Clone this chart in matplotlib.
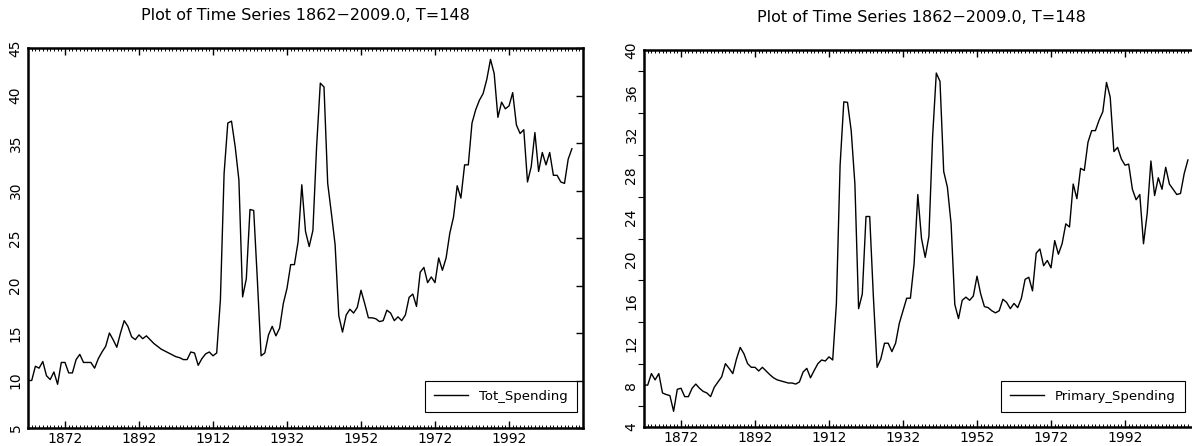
import numpy as np
import matplotlib.pyplot as plt
from matplotlib.ticker import MultipleLocator

# annual data 1862-2009
years = np.arange(1862, 2010)

tot_spending = [
    10.0, 10.0, 11.5, 11.3, 12.0, 10.5, 10.1, 10.9, 9.6, 11.9,
    11.9, 10.8, 10.8, 12.2, 12.75, 11.9, 11.9, 11.9, 11.3, 12.3,
    13.0, 13.6, 15.0, 14.3, 13.5, 15.0, 16.3, 15.7, 14.6, 14.3,
    14.8, 14.4, 14.7, 14.3, 13.9, 13.6, 13.3, 13.1, 12.9, 12.7,
    12.5, 12.4, 12.2, 12.2, 13.0, 12.9, 11.6, 12.3, 12.8, 13.0,
    12.6, 12.9, 18.5, 31.8, 37.1, 37.3, 34.6, 31.1, 18.8, 20.7,
    28.0, 27.9, 20.5, 12.6, 12.9, 14.8, 15.7, 14.7, 15.5, 18.1,
    19.7, 22.2, 22.2, 24.6, 30.6, 25.7, 24.1, 25.8, 34.6, 41.3,
    40.9, 30.75, 27.6, 24.3, 16.8, 15.1, 16.9, 17.5, 17.1, 17.7,
    19.5, 18.1, 16.6, 16.6, 16.5, 16.2, 16.3, 17.4, 17.1, 16.3,
    16.7, 16.3, 16.9, 18.75, 19.1, 17.8, 21.4, 21.9, 20.3, 20.9,
    20.3, 22.9, 21.6, 22.9, 25.5, 27.2, 30.5, 29.2, 32.7, 32.7,
    37.1, 38.5, 39.5, 40.2, 41.7, 43.8, 42.3, 37.7, 39.3, 38.6,
    38.9, 40.3, 36.9, 36.0, 36.4, 30.9, 32.5, 36.1, 32.0, 34.0,
    32.7, 34.0, 31.6, 31.6, 30.9, 30.75, 33.3, 34.4,
]

primary_spending = [
    8.0, 8.0, 9.1, 8.5, 9.1, 7.25, 7.1, 7.0, 5.5, 7.6,
    7.7, 6.9, 6.9, 7.7, 8.1, 7.7, 7.4, 7.25, 6.9, 7.8,
    8.3, 8.8, 10.05, 9.6, 9.1, 10.5, 11.6, 11.0, 10.05, 9.7,
    9.7, 9.35, 9.7, 9.35, 9.0, 8.7, 8.5, 8.4, 8.3, 8.2,
    8.2, 8.1, 8.3, 9.25, 9.6, 8.7, 9.4, 10.05, 10.4, 10.3,
    10.7, 10.4, 15.8, 29.0, 35.05, 35.0, 32.3, 27.2, 15.3, 16.7,
    24.1, 24.1, 16.4, 9.7, 10.5, 12.0, 12.0, 11.2, 12.0, 13.9,
    15.1, 16.3, 16.3, 19.6, 26.2, 22.0, 20.2, 22.2, 31.7, 37.8,
    37.0, 28.4, 26.9, 23.4, 15.7, 14.35, 16.1, 16.4, 16.1, 16.5,
    18.4, 16.7, 15.5, 15.4, 15.1, 14.9, 15.1, 16.2, 15.9, 15.3,
    15.8, 15.4, 16.3, 18.1, 18.3, 17.0, 20.6, 21.0, 19.4, 19.9,
    19.2, 21.8, 20.5, 21.5, 23.4, 23.1, 27.2, 25.8, 28.7, 28.5,
    31.2, 32.3, 32.3, 33.3, 34.1, 36.9, 35.5, 30.3, 30.7, 29.6,
    29.0, 29.1, 26.7, 25.7, 26.2, 21.5, 24.4, 29.4, 26.1, 27.8,
    26.7, 28.8, 27.2, 26.7, 26.2, 26.3, 28.2, 29.5,
]

title = "Plot of Time Series 1862\u22122009.0, T=148"
year_labels = [1872, 1892, 1912, 1932, 1952, 1972, 1992]

fig = plt.figure(figsize=(11.92, 4.46), dpi=100)
W, H = 1192, 446

def panel(rect, y, name, ylo, yhi, ystep, leg_xy):
    l, t, w, h = rect
    ax = fig.add_axes([l / W, (H - t - h) / H, w / W, h / H])
    ax.plot(years, y, color="black", lw=1.0, label=name)
    ax.set_xlim(1862, 2012)
    ax.set_ylim(ylo, yhi)
    ax.set_xticks(year_labels)
    ax.xaxis.set_minor_locator(MultipleLocator(1))
    ax.tick_params(axis="x", which="major", direction="in", length=5, width=1,
                   top=True, labelsize=10, pad=3)
    ax.tick_params(axis="x", which="minor", direction="in", length=2.5, width=0.7,
                   top=True)
    ax.set_yticks(np.arange(ylo, yhi + 0.1, ystep))
    ax.tick_params(axis="y", which="major", direction="in", length=5, width=1,
                   left=False, right=True, labelsize=10, pad=4)
    for lab in ax.get_yticklabels():
        lab.set_rotation(90)
        lab.set_va("center")
    for s in ax.spines.values():
        s.set_linewidth(1.8)
    ax.set_title(title, fontsize=11.5, pad=20)
    leg = ax.legend(loc="lower right", fancybox=False, edgecolor="black",
                    framealpha=1, fontsize=9.5, handlelength=2.6,
                    borderpad=0.7, borderaxespad=0,
                    bbox_to_anchor=(leg_xy[0] / W, (H - leg_xy[1]) / H),
                    bbox_transform=fig.transFigure)
    leg.get_frame().set_linewidth(0.8)
    return ax

panel((28, 48, 555, 380), tot_spending, "Tot_Spending", 5, 45, 5, (577, 412))
ax2 = panel((644, 50, 555, 377), primary_spending, "Primary_Spending", 4, 40, 4,
            (1185, 412))
ax2.yaxis.set_minor_locator(MultipleLocator(2))
ax2.tick_params(axis="y", which="minor", direction="out", length=4, width=0.8,
                left=True, right=False)

fig.savefig("out.png", dpi=100)
